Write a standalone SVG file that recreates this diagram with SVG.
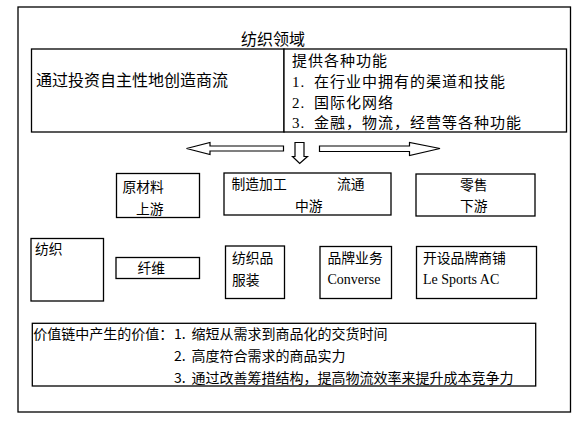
<svg xmlns="http://www.w3.org/2000/svg" width="588" height="432" viewBox="0 0 588 432">
<style>
.box{fill:#fff;stroke:#000;stroke-width:1.3}
.arr{fill:#fff;stroke:#000;stroke-width:1.2}
text{font-family:"Noto Sans CJK SC","Liberation Serif",sans-serif;fill:#000}
.t16{font-size:16px}
.t15{font-size:15px;letter-spacing:1px}
.t14{font-size:13.8px}
.t12{font-size:14px}
.lat{font-family:"Liberation Serif",serif;font-size:14px}
</style>
<rect x="0" y="0" width="588" height="432" fill="#fff"/>
<g id="frame"><rect class="box" x="18" y="7" width="552.5" height="405"/></g>
<g id="title"><text class="t16" x="241" y="45">纺织领域</text></g>
<g id="top-left"><rect class="box" x="31.5" y="49" width="252.5" height="83"/>
<text class="t16" x="36" y="86">通过投资自主性地创造商流</text></g>
<g id="top-right"><rect class="box" x="284" y="49" width="282.5" height="83"/>
<text class="t15" x="292" y="66">提供各种功能</text>
<text class="t15" x="292" y="87"><tspan class="lat" style="font-size:15px">1.</tspan><tspan x="314">在行业中拥有的渠道和技能</tspan></text>
<text class="t15" x="292" y="108"><tspan class="lat" style="font-size:15px">2.</tspan><tspan x="314">国际化网络</tspan></text>
<text class="t15" x="292" y="128"><tspan class="lat" style="font-size:15px">3.</tspan><tspan x="314">金融，物流，经营等各种功能</tspan></text></g>
<g id="connectors">
<path class="arr" d="M186.5,148.5 L210,142.5 L210,146 L283.5,146 L283.5,151 L210,151 L210,154.5 Z"/>
<path class="arr" d="M295,142.5 L304,142.5 L304,156.5 L307.5,156.5 L299.7,163.5 L292.5,156.5 L295,156.5 Z"/>
<path class="arr" d="M319.5,146 L409.5,146 L409.5,142.5 L440,148.5 L409.5,155.5 L409.5,151.5 L319.5,151.5 Z"/>
</g>
<g id="upstream"><rect class="box" x="116.5" y="173.5" width="83" height="44"/>
<text class="t14" x="122.5" y="192">原材料</text><text class="t14" x="136" y="214">上游</text></g>
<g id="midstream"><rect class="box" x="224" y="173" width="167" height="42"/>
<text class="t14" x="231.5" y="189">制造加工</text><text class="t14" x="337" y="189">流通</text><text class="t14" x="295" y="211">中游</text></g>
<g id="downstream"><rect class="box" x="416" y="174" width="119" height="42"/>
<text class="t14" x="460" y="190">零售</text><text class="t14" x="460" y="211">下游</text></g>
<g id="textile"><rect class="box" x="31" y="238.5" width="72.5" height="62.5"/>
<text class="t14" x="35" y="254">纺织</text></g>
<g id="fiber"><rect class="box" x="116" y="257.5" width="83.5" height="21"/>
<text class="t14" x="137.5" y="273">纤维</text></g>
<g id="apparel"><rect class="box" x="225.5" y="246" width="59" height="52.5"/>
<text class="t14" x="232" y="263">纺织品</text><text class="t14" x="232" y="285">服装</text></g>
<g id="brand"><rect class="box" x="320" y="246.5" width="71.5" height="52"/>
<text class="t14" x="327.5" y="263">品牌业务</text><text class="lat" x="327.5" y="283.5">Converse</text></g>
<g id="shops"><rect class="box" x="416.5" y="246.5" width="120" height="52"/>
<text class="t14" x="423" y="263">开设品牌商铺</text><text class="lat" x="423" y="283.5">Le Sports AC</text></g>
<g id="value"><rect class="box" x="32.3" y="323.3" width="503.4" height="62.7"/>
<text class="t12" x="33.3" y="338.5">价值链中产生的价值：</text>
<text class="t12" x="174" y="338.5">1.</text><text class="t12" x="191.5" y="338.5">缩短从需求到商品化的交货时间</text>
<text class="t12" x="174" y="361">2.</text><text class="t12" x="191.5" y="361">高度符合需求的商品实力</text>
<text class="t12" x="174" y="383">3.</text><text class="t12" x="191.5" y="383">通过改善筹措结构，提高物流效率来提升成本竞争力</text></g>
</svg>
